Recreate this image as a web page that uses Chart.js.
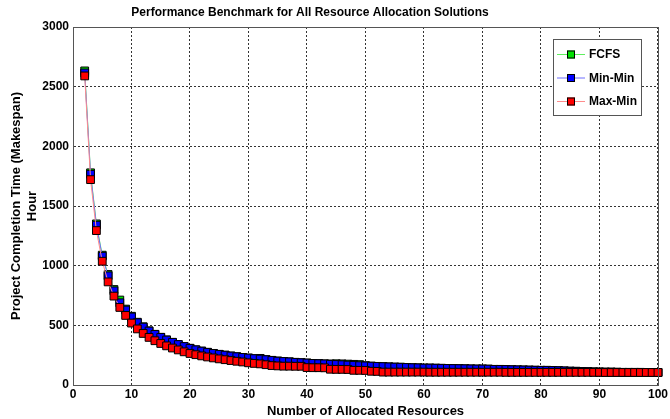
<!DOCTYPE html>
<html>
<head>
<meta charset="utf-8">
<script src="https://cdn.jsdelivr.net/npm/chart.js@4.4.0/dist/chart.umd.min.js"></script>
<style>
  html, body { margin: 0; padding: 0; background: #fff; }
</style>
</head>
<body>
<canvas id="chart" width="670" height="419"></canvas>
<script>
// number of allocated resources (x axis)
const resources = [2,3,4,5,6,7,8,9,10,11,12,13,14,15,16,17,18,19,20,21,22,23,24,25,26,27,28,29,30,
  31,32,33,34,35,36,37,38,39,40,41,42,43,44,45,46,47,48,49,50,51,52,53,54,55,56,57,58,59,60,
  61,62,63,64,65,66,67,68,69,70,71,72,73,74,75,76,77,78,79,80,81,82,83,84,85,86,87,88,89,90,
  91,92,93,94,95,96,97,98,99,100];

// makespan (hours)
const fcfs = [2632,1778,1350,1088,926,800,712,636,576,526,488,454,425,400,378,358,340,323,308,
  295,284,274,265,257,250,243,237,231,226,221,223,213,207,201,197,194,190,187,184,
  181,179,177,176,178,177,175,173,171,162,158,156,154,152,150,149,147,145,144,142,
  142,141,140,139,138,137,136,135,134,134,133,131,131,130,128,127,126,125,124,123,
  123,122,120,118,116,115,113,112,110,109,108,108,107,106,106,106,106,105,105,105];

const minMin = [2615,1766,1339,1079,915,789,689,628,570,522,485,452,424,399,377,357,339,322,307,
  295,284,274,265,257,250,243,237,231,226,221,217,212,206,200,197,194,190,187,184,
  181,179,177,174,172,170,167,165,162,160,158,156,154,152,150,149,147,145,144,142,
  142,141,140,139,138,137,136,135,134,134,133,131,131,130,128,127,126,125,124,123,
  123,122,120,118,116,115,113,112,110,109,108,108,107,106,106,106,106,105,105,105];

const maxMin = [2590,1721,1294,1037,864,745,650,583,519,470,432,399,371,348,328,310,294,278,264,
  254,244,235,227,219,212,205,199,193,186,181,177,170,163,160,158,158,157,157,146,
  145,145,144,132,131,131,130,123,123,122,115,114,108,108,108,108,108,108,108,108,
  107,107,107,107,107,107,107,107,107,107,107,107,107,106,106,106,106,106,106,106,
  106,106,106,106,106,106,106,106,106,106,105,105,105,105,105,105,105,105,105,105];

const xTicks = [0,10,20,30,40,50,60,70,80,90,100];
const yTicks = [0,500,1000,1500,2000,2500,3000];

const TITLE = 'Performance Benchmark for All Resource Allocation Solutions';
const FONT = 'Liberation Sans, Arial, sans-serif';

function pts(ys){ return resources.map((x,i)=>({x:x, y:ys[i]})); }

function series(label, ys, line, fill){
  return {
    label: label, data: pts(ys),
    borderColor: line, borderWidth: 1,
    pointStyle: 'rect', pointRadius: 5.5, pointHoverRadius: 5.5,
    pointBackgroundColor: fill, pointBorderColor: '#000', pointBorderWidth: 1,
    tension: 0, clip: false
  };
}

// drawn in reverse so Max-Min ends up on top, like the original
const datasets = [
  series('Max-Min', maxMin, '#ff8c8c', '#ff0000'),
  series('Min-Min', minMin, '#6f6fff', '#0000ff'),
  series('FCFS', fcfs, '#5fef5f', '#00e000')
];

// title, frame round the plot area + matlab style legend box
const framePlugin = {
  id: 'frame',
  afterDraw(chart){
    const a = chart.chartArea, ctx = chart.ctx;
    ctx.save();
    ctx.strokeStyle = '#555'; ctx.lineWidth = 1;
    ctx.strokeRect(Math.round(a.left)+0.5, Math.round(a.top)+0.5, Math.round(a.right-a.left), Math.round(a.bottom-a.top));

    ctx.fillStyle = '#000';
    ctx.font = 'bold 12px ' + FONT;
    ctx.textAlign = 'center'; ctx.textBaseline = 'middle';
    ctx.fillText(TITLE, 310, 13);

    // legend
    const bx = 553.5, by = 39.5, bw = 88, bh = 76;
    ctx.fillStyle = '#fff'; ctx.fillRect(bx, by, bw, bh);
    ctx.strokeStyle = '#555'; ctx.strokeRect(bx, by, bw, bh);
    const items = [datasets[2], datasets[1], datasets[0]];
    const rows = [54, 77.5, 101];
    ctx.font = 'bold 12px ' + FONT;
    ctx.textBaseline = 'middle'; ctx.textAlign = 'left';
    items.forEach((d,i)=>{
      const y = rows[i];
      ctx.strokeStyle = d.borderColor; ctx.lineWidth = 1;
      ctx.beginPath(); ctx.moveTo(557, y+0.5); ctx.lineTo(585, y+0.5); ctx.stroke();
      ctx.fillStyle = d.pointBackgroundColor; ctx.strokeStyle = '#000';
      ctx.fillRect(567, y-3.5, 8, 8); ctx.strokeRect(567.5, y-3, 7, 7);
      ctx.fillStyle = '#000'; ctx.fillText(d.label, 589, y+1);
    });
    ctx.restore();
  }
};

new Chart(document.getElementById('chart'), {
  type: 'line',
  data: { datasets: datasets },
  plugins: [framePlugin],
  options: {
    responsive: false, animation: false,
    layout: { padding: { left: 0, right: 11, top: 27, bottom: 0 } },
    plugins: {
      legend: { display: false },
      tooltip: { enabled: false },
      title: { display: false }
    },
    scales: {
      x: {
        type: 'linear', min: 0, max: 100,
        afterBuildTicks(s){ s.ticks = xTicks.map(v=>({value:v})); },
        afterFit(s){ s.height = 34; },
        grid: { color: '#333', drawTicks: false, lineWidth: 1 },
        border: { display: true, color: '#555', dash: [2,2] },
        ticks: { color: '#000', padding: 2, maxRotation: 0, callback: v => String(v),
          font: { family: FONT, size: 12, weight: 'bold' } },
        title: { display: true, text: 'Number of Allocated Resources', color: '#000', padding: { top: 0, bottom: 0 },
          font: { family: FONT, size: 13, weight: 'bold' } }
      },
      y: {
        type: 'linear', min: 0, max: 3000,
        afterBuildTicks(s){ s.ticks = yTicks.map(v=>({value:v})); },
        afterFit(s){ s.width = 73; },
        grid: { color: '#333', drawTicks: false, lineWidth: 1 },
        border: { display: true, color: '#555', dash: [2,2] },
        ticks: { color: '#000', padding: 4, callback: v => String(v),
          font: { family: FONT, size: 12, weight: 'bold' } },
        title: { display: true, text: ['Project Completion Time (Makespan)', 'Hour'], color: '#000', padding: { top: 8, bottom: 2 },
          font: { family: FONT, size: 13, weight: 'bold', lineHeight: 1.25 } }
      }
    }
  }
});
</script>
</body>
</html>
